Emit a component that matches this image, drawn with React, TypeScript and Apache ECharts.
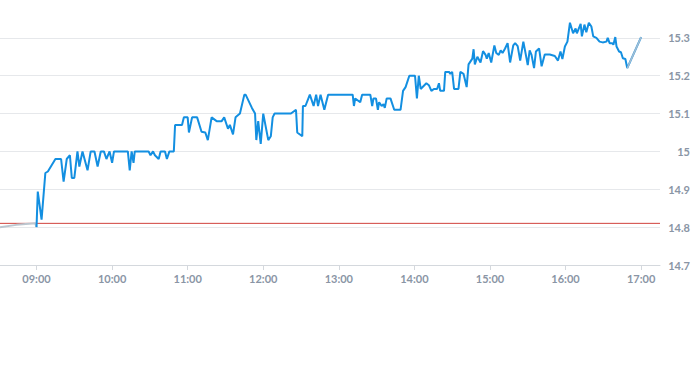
import React, { useEffect, useRef } from "react";
import * as echarts from "echarts";

const DAY = "2024-01-02";

// intraday price (blue)
const times: string[] = [
  "09:00:00","09:01:00","09:04:00","09:07:00","09:09:00","09:15:00","09:19:30","09:21:30","09:24:00","09:26:30",
  "09:28:00","09:30:00","09:32:30","09:34:00","09:36:30","09:40:30","09:43:00","09:46:00","09:48:30","09:51:00",
  "09:53:30","09:55:30","09:58:00","10:00:00","10:01:30","10:12:30","10:14:00","10:15:30","10:17:00","10:18:00",
  "10:29:00","10:30:30","10:32:30","10:34:00","10:37:00","10:38:30","10:42:00","10:43:30","10:45:30","10:49:00",
  "10:50:00","10:55:30","10:57:00","11:00:00","11:01:00","11:03:30","11:07:30","11:11:00","11:14:00","11:16:00",
  "11:19:00","11:23:00","11:27:00","11:29:00","11:32:00","11:33:30","11:36:00","11:38:00","11:41:30","11:45:00",
  "11:46:00","11:51:00","11:53:30","11:54:30","11:56:00","11:58:00","12:00:00","12:04:00","12:06:00","12:07:30",
  "12:09:00","12:22:00","12:26:00","12:27:00","12:31:00","12:31:30","12:33:30","12:37:00","12:40:00","12:42:00",
  "12:43:30","12:45:30","12:48:30","12:51:30","13:11:00","13:12:00","13:13:00","13:17:00","13:18:30","13:25:00",
  "13:26:30","13:27:30","13:29:30","13:31:00","13:32:00","13:34:00","13:35:30","13:36:30","13:38:00","13:41:00",
  "13:44:00","13:49:00","13:51:00","13:53:00","13:56:00","14:00:30","14:02:00","14:03:30","14:05:00","14:09:30",
  "14:11:30","14:13:30","14:15:30","14:18:00","14:19:30","14:20:30","14:23:30","14:24:30","14:27:30","14:28:30",
  "14:30:00","14:31:30","14:35:00","14:36:30","14:39:00","14:41:30","14:43:00","14:46:00","14:47:00","14:48:00",
  "14:50:00","14:52:30","14:54:30","14:56:30","14:57:30","14:59:00","15:01:00","15:03:30","15:05:00","15:07:00",
  "15:08:30","15:10:00","15:12:00","15:14:00","15:16:00","15:18:30","15:20:00","15:22:00","15:24:00","15:26:30",
  "15:28:30","15:30:00","15:31:30","15:33:00","15:35:00","15:36:30","15:39:00","15:41:00","15:43:30","15:47:30",
  "15:51:30","15:54:00","15:56:00","15:57:30","15:59:30","16:01:30","16:03:30","16:06:00","16:08:00","16:09:00",
  "16:12:00","16:13:00","16:15:00","16:16:30","16:18:30","16:20:30","16:22:00","16:24:30","16:27:00","16:29:30",
  "16:32:30","16:33:30","16:35:00","16:37:00","16:38:00","16:39:30","16:40:30","16:42:30","16:44:00","16:45:30",
  "16:47:30","16:49:00","17:00:00"
];
const prices: number[] = [
  14.80,14.894,14.82,14.943,14.947,14.98,14.98,14.92,14.98,14.99,
  14.93,14.93,15.00,14.96,15.00,14.95,15.00,15.00,14.96,15.00,
  15.00,14.98,15.00,14.97,15.00,15.00,14.95,15.00,14.97,15.00,
  15.00,14.99,15.00,14.99,14.98,15.00,15.00,14.98,15.00,15.00,
  15.07,15.07,15.09,15.09,15.05,15.09,15.09,15.052,15.05,15.03,
  15.09,15.08,15.08,15.09,15.06,15.07,15.045,15.09,15.10,15.15,
  15.15,15.115,15.10,15.03,15.08,15.02,15.10,15.03,15.04,15.09,
  15.10,15.10,15.11,15.05,15.04,15.12,15.12,15.15,15.12,15.15,
  15.12,15.15,15.11,15.15,15.15,15.12,15.14,15.13,15.15,15.15,
  15.12,15.14,15.14,15.11,15.13,15.12,15.125,15.115,15.14,15.14,
  15.11,15.11,15.16,15.17,15.20,15.20,15.14,15.20,15.165,15.18,
  15.175,15.16,15.165,15.165,15.18,15.16,15.16,15.21,15.21,15.205,
  15.21,15.165,15.165,15.21,15.205,15.17,15.23,15.245,15.27,15.23,
  15.25,15.235,15.265,15.255,15.245,15.26,15.235,15.28,15.26,15.255,
  15.267,15.26,15.272,15.286,15.235,15.28,15.286,15.278,15.24,15.29,
  15.255,15.228,15.267,15.255,15.22,15.264,15.272,15.225,15.256,15.256,
  15.252,15.24,15.264,15.244,15.277,15.29,15.34,15.312,15.325,15.312,
  15.337,15.304,15.335,15.315,15.34,15.33,15.304,15.30,15.29,15.288,
  15.29,15.30,15.286,15.286,15.282,15.302,15.277,15.264,15.262,15.246,
  15.244,15.22,15.302
];

// pre / post session (grey)
const preTimes: string[] = ["08:31:00", "08:44:00", "08:59:00", "09:00:00"];
const prePrices: number[] = [14.80, 14.806, 14.81, 14.80];
const postTimes: string[] = ["16:49:00", "17:00:00"];
const postPrices: number[] = [15.22, 15.302];

const prevClose = 14.81;
const yTicks: number[] = [14.7, 14.8, 14.9, 15.0, 15.1, 15.2, 15.3, 15.4];
const axisStart = "08:31:00";
const axisEnd = "17:15:00";

const ts = (t: string) => new Date(`${DAY}T${t}`).getTime();

export default function App() {
  const ref = useRef<HTMLDivElement>(null);
  useEffect(() => {
    if (!ref.current) return;
    document.body.style.margin = "0";
    const chart = echarts.init(ref.current, undefined, { renderer: "svg" });
    const labelColor = "#8a95a5";
    chart.setOption({
      animation: false,
      grid: { left: 0, right: 30, top: 0, bottom: 100, containLabel: false },
      xAxis: {
        type: "time",
        min: ts(axisStart),
        max: ts(axisEnd),
        minInterval: 3600 * 1000,
        maxInterval: 3600 * 1000,
        axisLine: { show: true, lineStyle: { color: "#d4d8dd", width: 1 } },
        axisTick: { show: true, length: 5, lineStyle: { color: "#d4d8dd" } },
        splitLine: { show: false },
        axisLabel: {
          formatter: "{HH}:{mm}",
          color: labelColor,
          fontSize: 11,
          fontWeight: "bold",
          fontFamily: "Lato, sans-serif",
          margin: 8,
          showMinLabel: false,
          showMaxLabel: false,
          hideOverlap: false,
        },
      },
      yAxis: {
        type: "value",
        position: "right",
        min: yTicks[0],
        max: yTicks[yTicks.length - 1],
        interval: 0.1,
        axisLine: { show: false },
        axisTick: { show: false },
        splitLine: { show: true, showMaxLine: false, lineStyle: { color: "#e6e8eb", width: 1 } },
        axisLabel: {
          color: labelColor,
          fontSize: 11,
          fontWeight: "bold",
          fontFamily: "Lato, sans-serif",
          align: "right",
          margin: 30,
          showMaxLabel: false,
          formatter: (v: number) => String(Math.round(v * 10) / 10),
        },
      },
      series: [
        {
          type: "line",
          data: [[ts(axisStart), prevClose], [ts(axisEnd), prevClose]],
          showSymbol: false,
          silent: true,
          lineStyle: { color: "#d0413c", width: 1 },
          z: 1,
        },
        {
          type: "line",
          data: preTimes.map((t, i) => [ts(t), prePrices[i]]),
          showSymbol: false,
          lineStyle: { color: "#bcc6cf", width: 2 },
          z: 2,
        },
        {
          type: "line",
          data: times.map((t, i) => [ts(t), prices[i]]),
          showSymbol: false,
          lineStyle: { color: "#138fe1", width: 2 },
          z: 3,
        },
        {
          type: "line",
          data: postTimes.map((t, i) => [ts(t), postPrices[i]]),
          showSymbol: false,
          lineStyle: { color: "#bcc6cf", width: 1.5, opacity: 0.85 },
          z: 4,
        },
      ],
    });
    return () => chart.dispose();
  }, []);
  return <div ref={ref} style={{ width: 693, height: 365 }} />;
}
